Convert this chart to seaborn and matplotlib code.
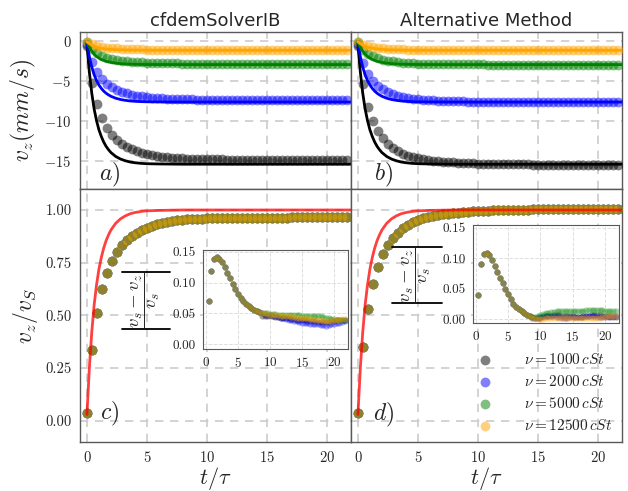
import numpy as np
import matplotlib
matplotlib.use("Agg")
import matplotlib.pyplot as plt
from matplotlib.lines import Line2D
import seaborn as sns

# ================= DATA =================

# sample times of the simulations (t / tau)
t_sim = np.round(np.arange(53) * 0.4167, 3)

viscosities = ["1000", "2000", "5000", "12500"]
colors = ["black", "blue", "green", "orange"]

# terminal (Stokes) velocity in mm/s
v_stokes = [-15.4, -7.6, -2.9, -1.1]

# analytic curve v_z / v_S
red_t = [0, 0.2, 0.4, 0.6, 0.8, 1.0, 1.2, 1.4, 1.6, 1.8, 2.0, 2.4, 2.8, 3.2,
         3.6, 4.0, 4.5, 5.0, 6.0, 7.0, 8.0, 10.0, 15.0, 22.0]
red_v = [0.03, 0.25, 0.42, 0.55, 0.645, 0.72, 0.775, 0.82, 0.855, 0.882, 0.905,
         0.937, 0.958, 0.972, 0.982, 0.988, 0.993, 0.996, 0.998, 0.999, 1.0,
         1.0, 1.0, 1.0]

# normalised velocity, cfdemSolverIB
norm_ib = [0.035, 0.336, 0.51, 0.624, 0.703, 0.758, 0.80, 0.833, 0.858, 0.877,
           0.892, 0.905, 0.916, 0.926, 0.933, 0.940, 0.944, 0.948, 0.951, 0.953,
           0.955, 0.957, 0.958, 0.959, 0.960, 0.960, 0.961, 0.961, 0.962, 0.962,
           0.962, 0.963, 0.963, 0.963, 0.963, 0.964, 0.964, 0.964, 0.964, 0.964,
           0.964, 0.965, 0.965, 0.965, 0.965, 0.965, 0.965, 0.965, 0.966, 0.966,
           0.966, 0.966, 0.966]

# normalised velocity, alternative method
norm_alt = [0.035, 0.348, 0.53, 0.648, 0.73, 0.79, 0.834, 0.866, 0.893, 0.913,
            0.930, 0.943, 0.953, 0.961, 0.967, 0.972, 0.976, 0.980, 0.983, 0.986,
            0.988, 0.990, 0.992, 0.994, 0.995, 0.996, 0.997, 0.998, 0.999, 1.000,
            1.001, 1.001, 1.002, 1.002, 1.002, 1.003, 1.003, 1.003, 1.003, 1.004,
            1.004, 1.004, 1.004, 1.004, 1.005, 1.005, 1.005, 1.005, 1.005, 1.005,
            1.005, 1.005, 1.005]

# relative error |v_s - v_z| / v_s  (from the second sample on)
err_ib_head = [0.070, 0.119, 0.1375, 0.142, 0.139, 0.133, 0.125, 0.116, 0.107,
               0.098, 0.090, 0.081, 0.075, 0.070, 0.065, 0.062, 0.059, 0.056,
               0.054, 0.052]
err_ib_black = [0.046, 0.045, 0.045, 0.045, 0.045, 0.044, 0.044, 0.043, 0.043,
                0.042, 0.042, 0.041, 0.041, 0.040, 0.040, 0.039, 0.039, 0.038,
                0.038, 0.037, 0.037, 0.036, 0.036, 0.036, 0.036, 0.036, 0.037,
                0.038, 0.039, 0.040, 0.040, 0.040]
err_ib_blue = [0.050, 0.049, 0.048, 0.047, 0.046, 0.045, 0.044, 0.043, 0.042,
               0.041, 0.040, 0.039, 0.038, 0.037, 0.036, 0.035, 0.034, 0.034,
               0.033, 0.033, 0.032, 0.032, 0.031, 0.031, 0.030, 0.031, 0.032,
               0.033, 0.034, 0.035, 0.036, 0.037]
err_ib_green = [0.051, 0.050, 0.050, 0.049, 0.049, 0.049, 0.048, 0.048, 0.048,
                0.048, 0.047, 0.047, 0.047, 0.047, 0.047, 0.046, 0.046, 0.046,
                0.046, 0.046, 0.045, 0.045, 0.045, 0.044, 0.043, 0.042, 0.041,
                0.041, 0.040, 0.040, 0.040, 0.040]
err_ib_orange = [0.051, 0.050, 0.049, 0.048, 0.048, 0.047, 0.047, 0.046, 0.046,
                 0.045, 0.045, 0.044, 0.044, 0.043, 0.043, 0.042, 0.042, 0.042,
                 0.041, 0.041, 0.040, 0.040, 0.039, 0.038, 0.038, 0.038, 0.038,
                 0.039, 0.040, 0.040, 0.041, 0.041]

err_alt_head = [0.040, 0.091, 0.107, 0.109, 0.105, 0.097, 0.088, 0.078, 0.068,
                0.059, 0.050, 0.041, 0.034, 0.026, 0.021, 0.017, 0.013, 0.010,
                0.007, 0.005]
err_alt_black = [0.004, 0.003, 0.003, 0.003, 0.004, 0.005, 0.006, 0.006, 0.007,
                 0.007, 0.007, 0.006, 0.006, 0.005, 0.005, 0.005, 0.004, 0.004,
                 0.004, 0.005, 0.005, 0.006, 0.007, 0.008, 0.008, 0.007, 0.006,
                 0.005, 0.005, 0.004, 0.004, 0.004]
err_alt_blue = [0.003, 0.003, 0.003, 0.004, 0.005, 0.006, 0.006, 0.005, 0.005,
                0.004, 0.004, 0.003, 0.003, 0.003, 0.004, 0.004, 0.004, 0.004,
                0.004, 0.004, 0.005, 0.005, 0.005, 0.005, 0.004, 0.004, 0.004,
                0.004, 0.004, 0.005, 0.005, 0.005]
err_alt_green = [0.004, 0.004, 0.005, 0.007, 0.009, 0.010, 0.011, 0.012, 0.012,
                 0.013, 0.013, 0.013, 0.013, 0.014, 0.014, 0.014, 0.014, 0.014,
                 0.014, 0.014, 0.015, 0.015, 0.015, 0.015, 0.015, 0.015, 0.015,
                 0.014, 0.014, 0.014, 0.014, 0.014]
err_alt_orange = [0.003, 0.002, 0.001, 0.001, 0.001, 0.002, 0.002, 0.002, 0.003,
                  0.003, 0.003, 0.003, 0.002, 0.002, 0.002, 0.002, 0.003, 0.003,
                  0.003, 0.003, 0.003, 0.002, 0.002, 0.002, 0.003, 0.003, 0.004,
                  0.004, 0.005, 0.005, 0.005, 0.005]

err_ib = [err_ib_head + tail for tail in
          (err_ib_black, err_ib_blue, err_ib_green, err_ib_orange)]
err_alt = [err_alt_head + tail for tail in
           (err_alt_black, err_alt_blue, err_alt_green, err_alt_orange)]

# ================= STYLE =================

sns.set_style("whitegrid", {"grid.linestyle": "--", "grid.color": "0.8",
                            "axes.edgecolor": "0.35"})
plt.rcParams["font.family"] = ["cmr10", "DejaVu Sans"]
plt.rcParams["mathtext.fontset"] = "cm"
plt.rcParams["axes.formatter.use_mathtext"] = True
plt.rcParams["axes.unicode_minus"] = True

# ================= FIGURE =================

W, H = 628, 491
fig = plt.figure(figsize=(W / 100, H / 100), dpi=100)
gs = fig.add_gridspec(2, 2, left=0.127, right=0.990, top=0.935, bottom=0.100,
                      wspace=0, hspace=0, height_ratios=[157, 253])
axes = gs.subplots(sharex=True, sharey="row")

norms = [norm_ib, norm_alt]

for col in range(2):
    ax_top = axes[0, col]
    ax_bot = axes[1, col]

    # top: dimensional velocity
    for vs, c in zip(v_stokes, colors):
        sns.scatterplot(x=t_sim, y=np.array(norms[col]) * vs, color=c,
                        alpha=0.5, s=50, linewidth=0, ax=ax_top, zorder=3)
    for vs, c in zip(v_stokes, colors):
        sns.lineplot(x=red_t, y=np.array(red_v) * vs, color=c, lw=2,
                     ax=ax_top, zorder=4)

    # bottom: normalised velocity
    for visc, c in zip(viscosities, colors):
        sns.scatterplot(x=t_sim, y=norms[col], color=c, alpha=0.5, s=50,
                        linewidth=0, ax=ax_bot, zorder=3,
                        label=r"$\nu = " + visc + r"\, cSt$")
    sns.lineplot(x=red_t, y=red_v, color="red", lw=2, alpha=0.75,
                 ax=ax_bot, zorder=4)

    for ax in (ax_top, ax_bot):
        ax.grid(True, linestyle=(0, (5, 4)), color="0.8", lw=1.2)
        ax.tick_params(length=4, width=0.8, color="0.35", labelsize=10.5,
                       pad=2)
        for sp in ax.spines.values():
            sp.set_linewidth(1.0)

axes[0, 0].set_ylim(-18.5, 1.2)
axes[0, 0].set_yticks([0, -5, -10, -15])
axes[1, 0].set_ylim(-0.1, 1.1)
axes[1, 0].set_yticks([0.0, 0.25, 0.5, 0.75, 1.0])
axes[1, 0].yaxis.set_major_formatter(matplotlib.ticker.FormatStrFormatter("%.2f"))
axes[1, 0].set_xlim(-0.6, 22)
axes[1, 0].set_xticks([0, 5, 10, 15, 20])

axes[0, 0].set_title("cfdemSolverIB", fontsize=13, family="DejaVu Sans", pad=4)
axes[0, 1].set_title("Alternative Method", fontsize=13, family="DejaVu Sans",
                     pad=4)

axes[0, 0].set_ylabel(r"$v_z(mm/s)$", fontsize=17, labelpad=4)
axes[1, 0].set_ylabel(r"$v_z/v_S$", fontsize=17, labelpad=4)
axes[0, 1].set_ylabel("")
axes[1, 1].set_ylabel("")
axes[1, 0].set_xlabel(r"$t/\tau$", fontsize=16, labelpad=0)
axes[1, 1].set_xlabel(r"$t/\tau$", fontsize=16, labelpad=0)

for ax, lab, x, y in [(axes[0, 0], "a)", 0.11, 0.09), (axes[0, 1], "b)", 0.12, 0.09),
                      (axes[1, 0], "c)", 0.11, 0.11), (axes[1, 1], "d)", 0.12, 0.105)]:
    ax.text(x, y, r"$" + lab + "$", transform=ax.transAxes, fontsize=17,
            ha="center", va="center", zorder=6)

axes[1, 0].get_legend().remove()
axes[1, 1].legend(loc="lower right", frameon=False, fontsize=11,
                  handletextpad=1.6, labelspacing=0.45, borderaxespad=0.2,
                  bbox_to_anchor=(1.0, 0.0))

# ================= INSETS =================

# rect, errors, xlim, ylim, label box in pixels (x0, x1, y_top, y_bottom)
inset_specs = [
    ([0.323, 0.289, 0.231, 0.202], err_ib, (-0.5, 22.2), (-0.008, 0.153),
     (122, 170, 272, 329)),
    ([0.753, 0.342, 0.232, 0.200], err_alt, (-0.45, 22.1), (-0.006, 0.155),
     (392, 442, 247, 303)),
]

for rect, errs, xl, yl, box in inset_specs:
    ins = fig.add_axes(rect)
    for e, c in zip(errs, colors):
        sns.scatterplot(x=t_sim[1:], y=e, color=c, alpha=0.35, s=20,
                        linewidth=0, ax=ins)
    ins.set_xlim(*xl)
    ins.set_ylim(*yl)
    ins.set_xticks([0, 5, 10, 15, 20])
    ins.set_yticks([0.0, 0.05, 0.10, 0.15])
    ins.yaxis.set_major_formatter(matplotlib.ticker.FormatStrFormatter("%.2f"))
    ins.grid(True, linestyle="--", color="0.87", lw=0.7)
    ins.tick_params(length=3, width=0.7, color="0.35", labelsize=9.5, pad=2)
    ins.set_facecolor("white")

    # rotated |(v_s - v_z) / v_s| label
    x0, x1, yt, yb = box
    fig.text((x0 + x1) / 2 / W, 1 - (yt + yb) / 2 / H,
             r"$\dfrac{v_s - v_z}{v_s}$", rotation=90, ha="center",
             va="center", fontsize=13.5)
    for yy in (yt, yb):
        fig.add_artist(Line2D([x0 / W, x1 / W], [1 - yy / H, 1 - yy / H],
                              transform=fig.transFigure, color="black",
                              lw=1.3))

fig.savefig("out.png", dpi=100)
